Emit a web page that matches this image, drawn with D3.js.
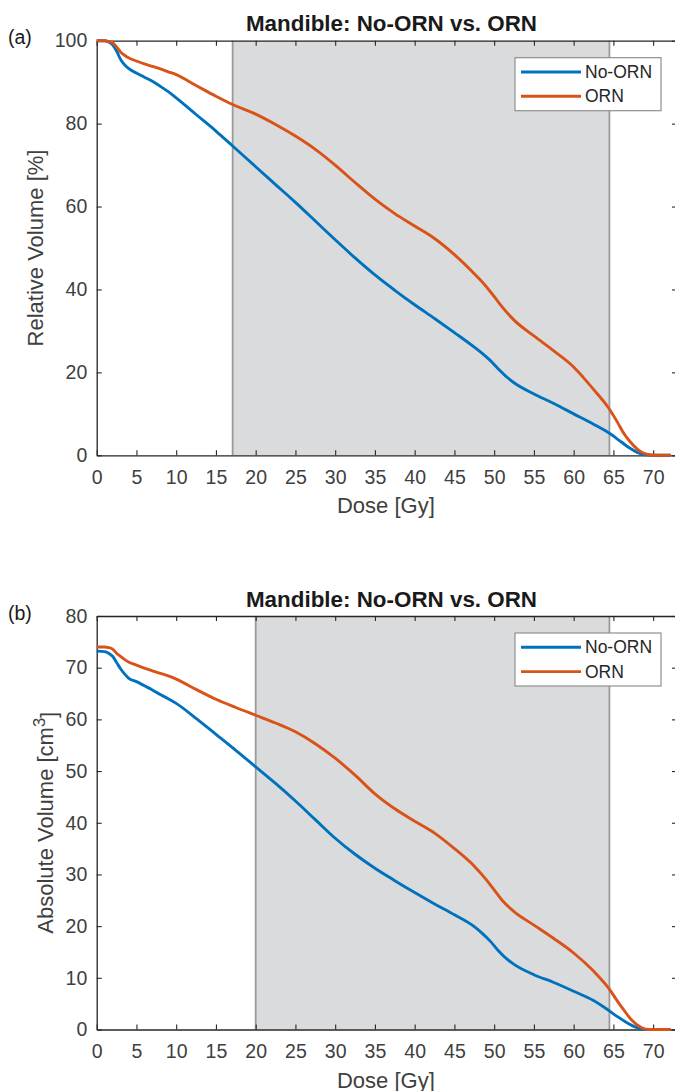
<!DOCTYPE html>
<html>
<head>
<meta charset="utf-8">
<script src="https://cdn.jsdelivr.net/npm/d3@7"></script>
<style>
  html, body { margin: 0; padding: 0; background: #fff; }
  svg { display: block; }
  text { font-family: "Liberation Sans", Arial, Helvetica, sans-serif; }
</style>
</head>
<body>
<svg id="chart" width="675" height="1091"></svg>
<script>
// ---------------- DATA ----------------
const titleText = "Mandible: No-ORN vs. ORN";
const xLabel = "Dose [Gy]";
const seriesNames = ["No-ORN", "ORN"];
const xTicks = [0, 5, 10, 15, 20, 25, 30, 35, 40, 45, 50, 55, 60, 65, 70];
const yTicksA = [0, 20, 40, 60, 80, 100];
const yTicksB = [0, 10, 20, 30, 40, 50, 60, 70, 80];
const shadeA = [17.1, 64.5];
const shadeB = [20.0, 64.5];

// (a) relative volume [%]
const doseNoOrnA = [0, 1, 1.5, 2, 2.5, 3, 3.5, 4, 5, 6, 7, 8, 9, 10, 12.5, 15, 17.1, 20, 22.5, 25, 27.5, 30, 32.5, 35, 37.5, 40, 42.5, 45, 47.5, 48.5, 49.5, 50.5, 51.7, 52.5, 55, 57.5, 60, 62.5, 64.5, 66, 67, 68, 69, 70, 72.2];
const relNoOrn    = [100, 100, 99.7, 99, 97.5, 95.5, 94.2, 93.3, 92.2, 91.2, 90.2, 89, 87.7, 86.2, 82.2, 78.2, 74.6, 69.6, 65.3, 61, 56.5, 52, 47.6, 43.5, 39.8, 36.3, 33, 29.6, 26.1, 24.6, 22.9, 20.9, 18.7, 17.5, 14.8, 12.5, 10, 7.5, 5.3, 3.2, 1.8, 0.7, 0.1, 0, 0];
const doseOrnA = [0, 1, 1.5, 2, 2.5, 3, 3.5, 4, 5, 6, 7, 8, 9, 10, 12.5, 15, 17.1, 20, 22.5, 25, 27.5, 30, 32.5, 35, 37.5, 40, 42.5, 45, 47.5, 48.5, 50, 51, 52.5, 55, 57.5, 60, 61.2, 62.5, 64.4, 65.5, 66.3, 67, 68, 68.5, 69.3, 70, 72.2];
const relOrn    = [100, 100, 99.8, 99.5, 98.5, 97.3, 96.5, 95.9, 95.1, 94.4, 93.8, 93.2, 92.5, 91.8, 89.2, 86.6, 84.6, 82.3, 79.8, 77, 73.8, 70, 65.8, 61.8, 58.3, 55.3, 52.3, 48.4, 43.8, 41.8, 38.3, 35.8, 32.6, 28.8, 25.2, 21.3, 18.8, 15.9, 11.4, 8, 5.3, 3.5, 1.5, 0.8, 0.2, 0, 0];

// (b) absolute volume [cm3]
const doseNoOrnB = [0, 1, 1.5, 2, 2.5, 3, 3.5, 4, 5, 6, 7, 8, 9, 10, 12.5, 15, 17.5, 20, 22.5, 25, 27.5, 30, 32.5, 35, 37.5, 40, 42.5, 45, 47.5, 48.5, 49.5, 50.5, 51.7, 52.5, 55, 57.5, 60, 62.5, 64.4, 65.5, 66.5, 67.9, 69, 72.2];
const absNoOrn    = [73.2, 73.1, 72.8, 72.2, 71, 69.8, 68.8, 68, 67.3, 66.5, 65.7, 64.8, 64, 63.1, 60.2, 57.1, 54, 50.8, 47.6, 44.2, 40.6, 37, 33.9, 31.2, 28.8, 26.5, 24.3, 22.2, 19.9, 18.6, 17.1, 15.3, 13.5, 12.6, 10.6, 9.1, 7.4, 5.6, 3.7, 2.5, 1.5, 0.4, 0, 0];
const doseOrnB = [0, 1, 1.5, 2, 2.5, 3, 3.5, 4, 5, 6, 7, 8, 9, 10, 12.5, 15, 17.5, 20, 22.5, 25, 27.5, 30, 32.5, 35, 37.5, 40, 42.5, 45, 47.5, 49, 50, 51, 52.5, 55, 57.5, 60, 62.5, 64.4, 65.5, 66.3, 67.2, 68.5, 69.5, 72.2];
const absOrn    = [74, 74, 73.9, 73.6, 72.8, 72.2, 71.6, 71.1, 70.5, 69.9, 69.4, 68.9, 68.4, 67.8, 65.8, 63.9, 62.3, 60.8, 59.3, 57.6, 55.3, 52.5, 49.2, 45.6, 42.7, 40.3, 38, 35, 31.6, 29, 27, 25, 22.8, 20.2, 17.6, 14.8, 11.3, 8, 5.5, 3.8, 2, 0.4, 0, 0];

// ---------------- STYLE / LAYOUT ----------------
const colors = ["#0072BD", "#D95319"];
const axisColor = "#262626";
const textColor = "#404040";
const tickFont = 19.5, labelFont = 22, titleFont = 22.4, legendFont = 17.5;

const svg = d3.select("#chart");
const L = 96.7, R = 677;
const x = d3.scaleLinear().domain([0, 73]).range([L, R]);

function panel(cfg) {
  const y = d3.scaleLinear().domain(cfg.yDomain).range([cfg.bottom, cfg.top]);
  const g = svg.append("g");

  // shaded region
  g.append("rect")
    .attr("x", x(cfg.shade[0])).attr("y", cfg.top)
    .attr("width", x(cfg.shade[1]) - x(cfg.shade[0]))
    .attr("height", cfg.bottom - cfg.top)
    .attr("fill", "#dadbdd");
  cfg.shade.forEach(s => {
    g.append("line")
      .attr("x1", x(s)).attr("x2", x(s))
      .attr("y1", cfg.top).attr("y2", cfg.bottom)
      .attr("stroke", "#9a9a9a").attr("stroke-width", 1.8);
  });

  // axes
  const styleAxis = sel => {
    sel.select(".domain").attr("stroke", axisColor).attr("stroke-width", 1.3);
    sel.selectAll(".tick line").attr("stroke", axisColor).attr("stroke-width", 1.1);
    sel.selectAll(".tick text").attr("fill", textColor)
      .style("font-size", tickFont + "px")
      .style("font-family", '"Liberation Sans", Arial, sans-serif');
  };
  g.append("g").attr("transform", `translate(0,${cfg.bottom})`)
    .call(d3.axisBottom(x).tickValues(xTicks).tickSizeInner(-5).tickSizeOuter(0).tickPadding(15).tickFormat(d3.format("d")))
    .call(styleAxis);
  g.append("g").attr("transform", `translate(0,${cfg.top})`)
    .call(d3.axisTop(x).tickValues(xTicks).tickSizeInner(-5).tickSizeOuter(0).tickFormat(""))
    .call(styleAxis);
  g.append("g").attr("transform", `translate(${L},0)`)
    .call(d3.axisLeft(y).tickValues(cfg.yTicks).tickSizeInner(-5).tickSizeOuter(0).tickPadding(9.4).tickFormat(d3.format("d")))
    .call(styleAxis);
  g.append("g").attr("transform", `translate(${R},0)`)
    .call(d3.axisRight(y).tickValues(cfg.yTicks).tickSizeInner(-5).tickSizeOuter(0).tickFormat(""))
    .call(styleAxis);

  // curves
  const line = d3.line().x(d => x(d[0])).y(d => y(d[1])).curve(d3.curveMonotoneX);
  cfg.series.forEach((s, i) => {
    g.append("path")
      .datum(s.dose.map((d, k) => [d, s.vals[k]]))
      .attr("d", line)
      .attr("fill", "none")
      .attr("stroke", colors[i])
      .attr("stroke-width", 2.9)
      .attr("stroke-linejoin", "round");
  });

  // title
  g.append("text")
    .attr("x", 391.5).attr("y", cfg.top - 9.5)
    .attr("text-anchor", "middle")
    .attr("fill", "#1a1a1a")
    .style("font-size", titleFont + "px").style("font-weight", "bold")
    .text(titleText);

  // panel tag
  g.append("text")
    .attr("x", 8).attr("y", cfg.top + 3.5)
    .attr("fill", "#1a1a1a")
    .style("font-size", tickFont + "px")
    .text(cfg.tag);

  // x label
  g.append("text")
    .attr("x", (L + R) / 2 - 1).attr("y", cfg.bottom + 58)
    .attr("text-anchor", "middle")
    .attr("fill", textColor)
    .style("font-size", labelFont + "px")
    .text(xLabel);

  // y label
  const yl = g.append("text")
    .attr("transform", `translate(${cfg.yLabelX},${(cfg.top + cfg.bottom) / 2}) rotate(-90)`)
    .attr("text-anchor", "middle")
    .attr("fill", textColor)
    .style("font-size", labelFont + "px");
  yl.append("tspan").text(cfg.yLabel);
  if (cfg.yLabelSup) {
    yl.append("tspan").attr("dy", "-0.5em").style("font-size", (labelFont * 0.75) + "px").text(cfg.yLabelSup);
    yl.append("tspan").attr("dy", "0.5em").text("]");
  }

  // legend
  const lg = g.append("g");
  const bx = 515, bw = 146, by = cfg.top + 17, bh = 53;
  lg.append("rect").attr("x", bx).attr("y", by).attr("width", bw).attr("height", bh)
    .attr("fill", "#fff").attr("stroke", "#8f8f8f").attr("stroke-width", 1.2);
  seriesNames.forEach((n, i) => {
    const yy = cfg.top + 31.3 + i * 24.3;
    lg.append("line").attr("x1", 521).attr("x2", 581).attr("y1", yy).attr("y2", yy)
      .attr("stroke", colors[i]).attr("stroke-width", 2.9);
    lg.append("text").attr("x", 585).attr("y", yy).attr("dy", "0.35em")
      .attr("fill", "#262626")
      .style("font-size", legendFont + "px").text(n);
  });
}

panel({
  top: 40.7, bottom: 455.3, yDomain: [0, 100], yTicks: yTicksA, shade: shadeA, tag: "(a)",
  yLabel: "Relative Volume [%]", yLabelX: 42.7,
  series: [{ dose: doseNoOrnA, vals: relNoOrn }, { dose: doseOrnA, vals: relOrn }]
});
panel({
  top: 616, bottom: 1029.5, yDomain: [0, 80], yTicks: yTicksB, shade: shadeB, tag: "(b)",
  yLabel: "Absolute Volume [cm", yLabelSup: "3", yLabelX: 53.3,
  series: [{ dose: doseNoOrnB, vals: absNoOrn }, { dose: doseOrnB, vals: absOrn }]
});
</script>
</body>
</html>
